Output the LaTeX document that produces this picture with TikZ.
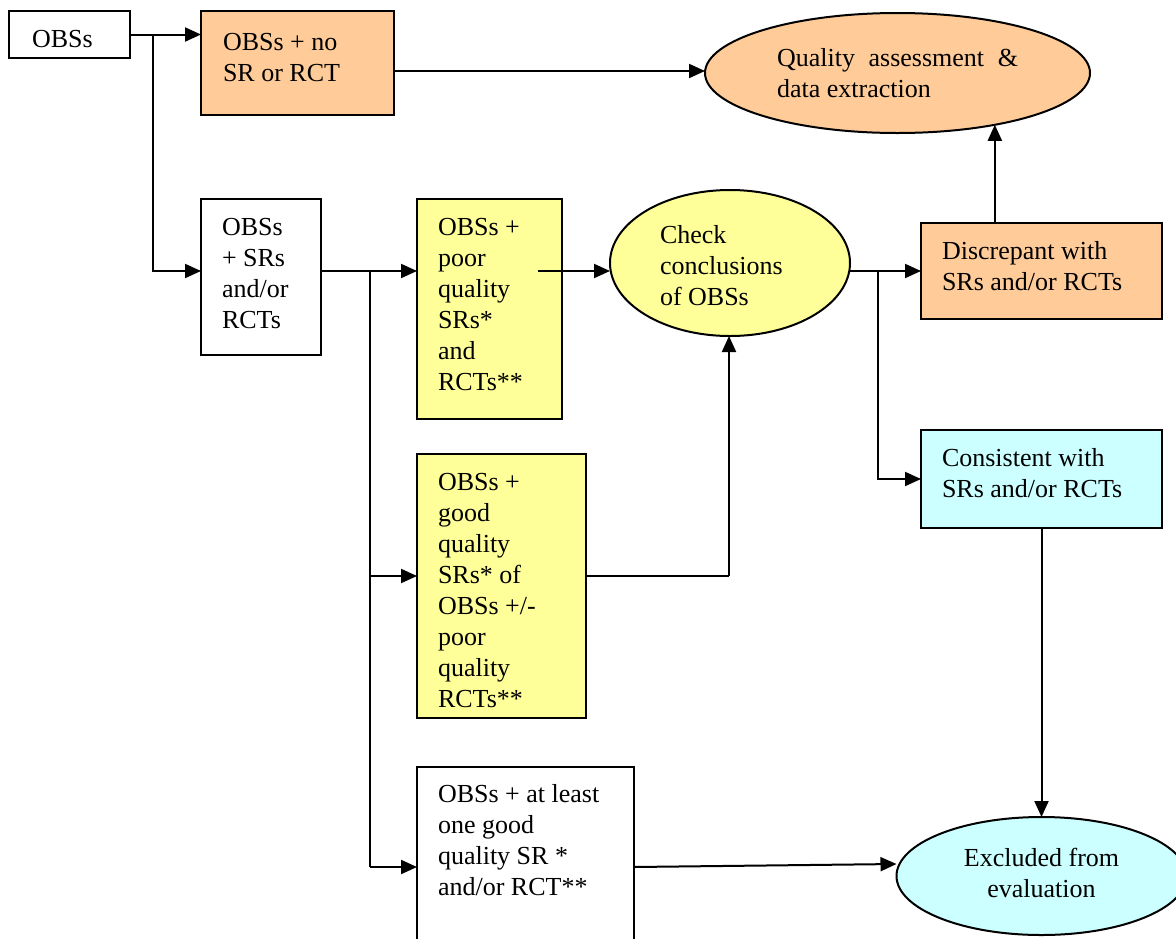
\documentclass[tikz,border=0pt]{standalone}
\usepackage{fontspec}
\setmainfont{Liberation Serif}
\usetikzlibrary{shapes.geometric,arrows.meta}
\definecolor{orangefill}{HTML}{FFCC99}
\definecolor{yellowfill}{HTML}{FFFF99}
\definecolor{cyanfill}{HTML}{CCFFFF}
\begin{document}
\begin{tikzpicture}[x=1pt,y=-1pt,
  box/.style={draw, rectangle, line width=2pt, inner sep=0pt, outer sep=0pt},
  ell/.style={draw, ellipse, line width=2pt, inner sep=0pt, outer sep=0pt},
  txt/.style={inner sep=0pt, outer sep=0pt, align=left, anchor=north west, font=\fontsize{26}{31}\selectfont},
  ctxt/.style={inner sep=0pt, outer sep=0pt, align=center, anchor=north, font=\fontsize{26}{31}\selectfont},
  ln/.style={line width=2pt},
  arr/.style={line width=2pt, -{Triangle[length=16pt,width=14pt]}}]
\useasboundingbox (0,0) rectangle (1176,938);
\clip (0,0) rectangle (1176,938);
% boxes
\node[box, minimum width=121pt, minimum height=47pt] (obs) at (69.5,34.5) {};
\node[box, fill=orangefill, minimum width=193pt, minimum height=104pt] (nosr) at (297.5,63) {};
\node[ell, fill=orangefill, minimum width=385pt, minimum height=120pt] (qa) at (897.5,73) {};
\node[box, minimum width=120pt, minimum height=156pt] (srs) at (261,277) {};
\node[box, fill=yellowfill, minimum width=145pt, minimum height=220pt] (poor) at (489.5,309) {};
\node[ell, fill=yellowfill, minimum width=240pt, minimum height=146pt] (check) at (730,263) {};
\node[box, fill=orangefill, minimum width=241pt, minimum height=96pt] (disc) at (1041.5,271) {};
\node[box, fill=cyanfill, minimum width=241pt, minimum height=98pt] (cons) at (1041.5,479) {};
\node[box, fill=yellowfill, minimum width=169pt, minimum height=264pt] (good) at (501.5,586) {};
\node[box, minimum width=217pt, minimum height=200pt] (atleast) at (525.5,867) {};
\node[ell, fill=cyanfill, minimum width=290pt, minimum height=118pt] (excl) at (1041.5,876) {};
% texts
\node[txt] (tobs) at (32,25.3) {\strut OBSs};
\node[txt] (tnosr) at (223,28.3) {\strut OBSs + no\\SR or RCT};
\node[txt] (tqa) at (777,44.3) {\strut\makebox[241pt][s]{Quality assessment \&}\\data extraction};
\node[txt] (tsrs) at (222,213.3) {\strut OBSs\\+ SRs\\and/or\\RCTs};
\node[txt] (tpoor) at (438,213.3) {\strut OBSs +\\poor\\quality\\SRs*\\and\\RCTs**};
\node[txt] (tcheck) at (660,221.3) {\strut Check\\conclusions\\of OBSs};
\node[txt] (tdisc) at (942,237.3) {\strut Discrepant with\\SRs and/or RCTs};
\node[txt] (tcons) at (942,444.3) {\strut Consistent with\\SRs and/or RCTs};
\node[txt] (tgood) at (438,468.3) {\strut OBSs +\\good\\quality\\SRs* of\\OBSs +/-\\poor\\quality\\RCTs**};
\node[txt] (tatleast) at (438,780.3) {\strut OBSs + at least\\one good\\quality SR *\\and/or RCT**};
\node[ctxt] (texcl) at (1041.5,844.3) {\strut Excluded from\\evaluation};
% junction coordinates
\coordinate (j1) at (153,34.5);
\coordinate (j2) at (370,271);
\coordinate (j3) at (538,271);
\coordinate (j4) at (878,271);
\coordinate (j5) at (729,576);
% connectors
\draw[arr] (obs.east) -- (nosr.west |- obs.east);
\draw[arr] (j1) |- (srs.west |- j2);
\draw[arr] (nosr.east |- 0,71) -- (qa.west |- 0,71);
\draw[arr] (srs.east |- j2) -- (poor.west |- j2);
\draw[ln] (j2) -- (j2 |- atleast.west);
\draw[arr] (j2 |- j5) -- (good.west |- j5);
\draw[arr] (j2 |- atleast.west) -- (atleast.west);
\draw[arr] (j3) -- (check.west |- j3);
\draw[arr] (check.east |- j4) -- (disc.west |- j4);
\draw[arr] (j4) |- (cons.west);
\draw[ln] (good.east |- j5) -- (j5);
\draw[arr] (j5) -- (check.south -| j5);
\draw[arr] (qa.-28.5 |- disc.north) -- (qa.-28.5);
\draw[arr] (cons.south) -- (excl.north);
\draw[arr] (atleast.east) -- (excl.west |- 0,864);
\end{tikzpicture}
\end{document}
